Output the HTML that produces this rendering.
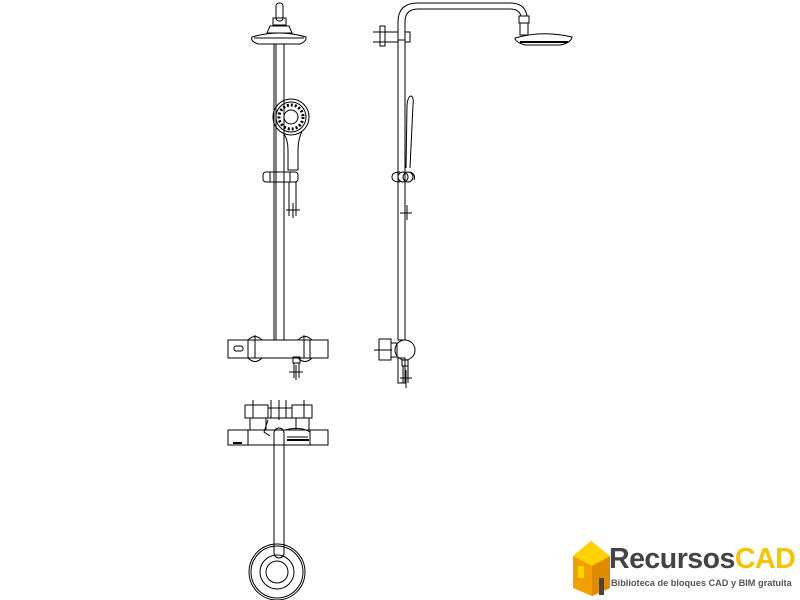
<!DOCTYPE html>
<html><head><style>
body{margin:0;width:800px;height:600px;background:#fff;overflow:hidden;position:relative;font-family:"Liberation Sans",sans-serif}
svg{position:absolute;left:0;top:0}
.t1{position:absolute;left:609px;top:543px;font-size:28.5px;font-weight:bold;letter-spacing:-0.5px;color:#444;white-space:nowrap}
.t1 span{color:#f5c400}
.t2{position:absolute;left:611px;top:578px;font-size:9.2px;font-weight:bold;color:#555;white-space:nowrap}
</style></head><body>
<svg width="800" height="600" viewBox="0 0 800 600" fill="none" stroke="#000" stroke-width="1">
<rect x="276" y="3" width="7" height="18" rx="3"/>
<rect x="273" y="18" width="13" height="7"/>
<path d="M270 26 L289 26 L292 33 L267 33 Z"/>
<path d="M252 37 Q279 29 306 37 Q307 41 300 44 L258 44 Q250 41 252 37 Z"/>
<line x1="254" y1="38" x2="304" y2="38"/>
<rect x="274" y="44" width="10" height="296"/>
<line x1="276" y1="44" x2="276" y2="340"/>
<circle cx="291" cy="117" r="18"/>
<circle cx="291" cy="117" r="15"/>
<circle cx="291" cy="117" r="12" stroke-width="3" stroke-dasharray="2 2"/>
<circle cx="291" cy="117" r="7"/>
<path d="M284 134 Q288 140 288 150 L288 170 L298 170 L298 150 Q298 140 302 131"/>
<rect x="263" y="172" width="35" height="10" rx="3"/>
<line x1="270" y1="172" x2="270" y2="182"/><line x1="290" y1="172" x2="290" y2="182"/>
<line x1="289" y1="182" x2="289" y2="216"/><line x1="296" y1="182" x2="296" y2="216"/>
<line x1="286" y1="210" x2="300" y2="210"/><line x1="293" y1="203" x2="293" y2="218"/>
<rect x="228" y="340" width="100" height="18"/>
<line x1="248" y1="340" x2="248" y2="358"/><line x1="310" y1="340" x2="310" y2="358"/>
<rect x="234" y="346" width="9" height="5" rx="2"/>
<path d="M248 340 Q255 333 262 340 M248 358 Q255 365 262 358"/>
<path d="M298 340 Q305 333 312 340 M298 358 Q305 365 312 358"/>
<line x1="255" y1="335" x2="255" y2="358"/><line x1="304" y1="335" x2="304" y2="358"/>
<rect x="293" y="357" width="7" height="6"/>
<line x1="294" y1="363" x2="294" y2="378"/><line x1="299" y1="363" x2="299" y2="378"/>
<line x1="289" y1="372" x2="303" y2="372"/><line x1="296" y1="365" x2="296" y2="380"/>
<rect x="398" y="40" width="7" height="300"/>
<rect x="398" y="358" width="7" height="25"/>
<path d="M398 34 L398 22 Q398 3 418 3 L510 3 Q525 3 527 16 M405 34 L405 22 Q405 9 418 9 L510 9 Q519 9 521 16"/>
<rect x="519" y="16" width="10" height="7"/>
<rect x="520" y="23" width="8" height="12"/>
<path d="M515 38 Q543 30 572 37 Q571 43 560 45 L525 45 Q515 42 515 38 Z"/>
<line x1="520" y1="42" x2="568" y2="42" stroke-width="2"/>
<rect x="380" y="26" width="5" height="20"/>
<rect x="385" y="32" width="13" height="10"/>
<rect x="405" y="32" width="5" height="10"/>
<line x1="373" y1="32" x2="390" y2="32"/><line x1="373" y1="42" x2="390" y2="42"/>
<path d="M406 168 L407 105 Q408 96 411 96 Q414 97 413 105 L410 168"/>
<path d="M400 172 Q392 172 392 177 Q392 182 400 182 M410 172 Q416 174 414 180"/>
<circle cx="403" cy="177" r="5"/><circle cx="408" cy="177" r="5"/>
<line x1="400" y1="213" x2="412" y2="213"/><line x1="407" y1="205" x2="407" y2="220"/>
<rect x="379" y="339" width="12" height="21"/>
<rect x="391" y="343" width="6" height="14"/>
<circle cx="405" cy="350" r="10"/>
<line x1="374" y1="350" x2="392" y2="350"/>
<rect x="402" y="360" width="6" height="6"/>
<line x1="403" y1="366" x2="403" y2="383"/><line x1="408" y1="366" x2="408" y2="383"/>
<line x1="400" y1="378" x2="412" y2="378"/><line x1="406" y1="370" x2="406" y2="388"/>
<rect x="245" y="405" width="23" height="13"/>
<rect x="292" y="405" width="20" height="13"/>
<rect x="268" y="408" width="24" height="10"/>
<line x1="253" y1="400" x2="253" y2="418"/><line x1="271" y1="400" x2="271" y2="418"/>
<line x1="279" y1="400" x2="279" y2="420"/><line x1="286" y1="400" x2="286" y2="418"/>
<line x1="304" y1="400" x2="304" y2="418"/>
<rect x="250" y="418" width="16" height="12"/><rect x="296" y="418" width="13" height="12"/>
<rect x="228" y="430" width="100" height="15"/>
<line x1="248" y1="430" x2="248" y2="445"/><line x1="310" y1="430" x2="310" y2="445"/>
<line x1="233" y1="443" x2="242" y2="443" stroke-width="2"/>
<path d="M268 420 L264 432 L270 436 M285 430 Q300 426 310 432 M287 437 L308 437" />
<line x1="287" y1="440" x2="309" y2="440" stroke-width="2"/>
<rect x="274" y="428" width="10" height="130" rx="5"/>
<circle cx="277" cy="572" r="28"/><circle cx="277" cy="572" r="26"/>
<circle cx="277" cy="572" r="17"/><circle cx="277" cy="572" r="11"/>
<polygon points="573,556 591,541 610,556 610,588 592,596 573,588" fill="#f0a000" stroke="none"/>
<polygon points="573,556 591,541 610,556 592,566" fill="#ffd200" stroke="none"/>
<polygon points="592,566 610,556 610,588 592,596" fill="#e08a00" stroke="none"/>
<rect x="578" y="566" width="6" height="12" fill="#ffd200" stroke="none"/>
<rect x="599" y="578" width="5" height="17" fill="#444" stroke="none"/>
</svg>
<div class="t1">Recursos<span>CAD</span></div>
<div class="t2">Biblioteca de bloques CAD y BIM gratuita</div>
</body></html>
